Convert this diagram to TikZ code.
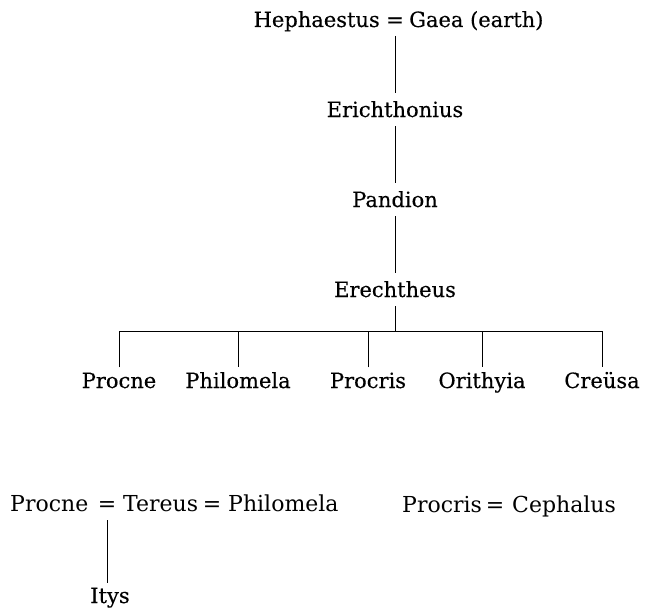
\documentclass[tikz,border=0pt]{standalone}
\usepackage{fontspec}
\setmainfont{DejaVu Serif}
\newfontfamily\heavyserif{DejaVu Serif}[FakeBold=0.3]
\begin{document}
\begin{tikzpicture}[x=1pt,y=-1pt,
  lbl/.style={inner sep=0pt, font=\heavyserif\fontsize{21}{25}\selectfont},
  lblb/.style={inner sep=0pt, font=\fontsize{22}{26}\selectfont},
  kin/.style={line width=1pt},
  desc/.style={kin, shorten <=9pt, shorten >=8pt}]
\useasboundingbox (0,0) rectangle (645,610);
% top couple
\node[lbl, anchor=base] (eqA) at (395,27) {=};
\node[lbl, anchor=base east] (heph) at (380,27) {Hephaestus};
\node[lbl, anchor=base west] (gaea) at (409,27) {Gaea (earth)};
% line of descent
\node[lbl, anchor=base] (erich) at (395,117) {Erichthonius};
\node[lbl, anchor=base] (pand) at (395,207) {Pandion};
\node[lbl, anchor=base] (erech) at (395,297) {Erechtheus};
\draw[desc] (eqA.base) -- (erich.north);
\draw[desc] (erich.base) -- (pand.north);
\draw[desc] (pand.base) -- (erech.north);
% children
\node[lbl, anchor=base] (procneA) at (119,388) {Procne};
\node[lbl, anchor=base] (philoA) at (238,388) {Philomela};
\node[lbl, anchor=base] (procrisA) at (368,388) {Procris};
\node[lbl, anchor=base] (orith) at (482,388) {Orithyia};
\node[lbl, anchor=base] (creusa) at (602,388) {Creüsa};
\coordinate (bar) at (395,331);
\draw[kin, shorten <=9pt] (erech.base) -- (erech.base |- bar);
\draw[kin] (procneA.north |- bar) -- (creusa.north |- bar);
\foreach \c in {procneA,philoA,procrisA,orith,creusa}
  \draw[kin, shorten <=5pt] (\c.north) -- (\c.north |- bar);
% marriages
\node[lblb, anchor=base west] (procneB) at (10,511) {Procne};
\node[lblb, anchor=base] (eqB) at (107,511) {=};
\node[lblb, anchor=base west] (tereus) at (123,511) {Tereus};
\node[lblb, anchor=base] (eqC) at (212,511) {=};
\node[lblb, anchor=base west] (philoB) at (228,511) {Philomela};
\node[lblb, anchor=base west] (procrisB) at (402,512) {Procris};
\node[lblb, anchor=base] (eqD) at (495,512) {=};
\node[lblb, anchor=base west] (ceph) at (512,512) {Cephalus};
\node[lbl, anchor=base] (itys) at (110,603) {Itys};
\draw[kin, shorten <=9pt, shorten >=4pt] (eqB.base) -- (eqB.base |- itys.north);
\end{tikzpicture}
\end{document}
